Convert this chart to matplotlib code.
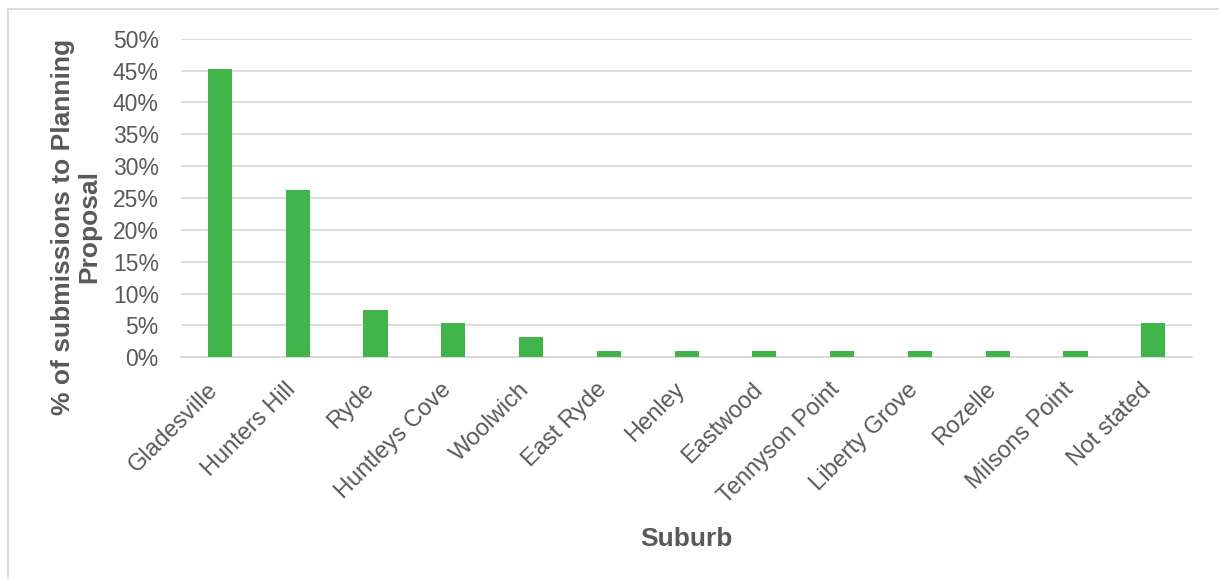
import matplotlib.pyplot as plt
from matplotlib.ticker import PercentFormatter
from matplotlib.lines import Line2D
from matplotlib.transforms import ScaledTranslation

suburbs = ['Gladesville', 'Hunters Hill', 'Ryde', 'Huntleys Cove', 'Woolwich',
           'East Ryde', 'Henley', 'Eastwood', 'Tennyson Point', 'Liberty Grove',
           'Rozelle', 'Milsons Point', 'Not stated']
share = [45.3, 26.3, 7.4, 5.3, 3.2, 1.05, 1.05, 1.05, 1.05, 1.05, 1.05, 1.05, 5.3]

plt.rcParams['font.family'] = ['Liberation Sans', 'DejaVu Sans']
txt = '#595959'
grid = '#d9d9d9'

fig = plt.figure(figsize=(12.19, 5.79), dpi=100)
ax = fig.add_axes([0.1485, 0.383, 0.8295, 0.55])

x = range(len(suburbs))
ax.bar(x, share, width=0.31, color='#41b54a', zorder=3)

ax.set_ylim(0, 50)
ax.set_xlim(-0.5, len(suburbs) - 0.5)
ax.set_yticks(range(0, 51, 5))
ax.yaxis.set_major_formatter(PercentFormatter(decimals=0))
ax.grid(axis='y', color=grid, linewidth=1.3, zorder=0)
for s in ['top', 'right', 'left']:
    ax.spines[s].set_visible(False)
ax.spines['bottom'].set_color(grid)
ax.spines['bottom'].set_linewidth(1.3)
ax.tick_params(axis='y', length=0, labelsize=16.5, colors=txt, pad=16)
ax.tick_params(axis='x', length=0, labelsize=17, colors=txt, pad=21)
ax.set_xticks(list(x))
ax.set_xticklabels(suburbs, rotation=45, ha='right', va='center', rotation_mode='anchor')
shift = ScaledTranslation(-4 / 72, 0, fig.dpi_scale_trans)
for lbl in ax.get_xticklabels():
    lbl.set_transform(lbl.get_transform() + shift)

ax.set_xlabel('Suburb', fontsize=19, fontweight='bold', color=txt, va='center')
ax.xaxis.set_label_coords(0.5, -0.572)
ax.set_ylabel('% of submissions to Planning\nProposal', fontsize=19,
              fontweight='bold', color=txt, linespacing=1.1)
ax.yaxis.set_label_coords(-0.079, 0.41)

# frame around the chart (only top and left edges show)
fig.add_artist(Line2D([8 / 1219, 1], [1 - 9 / 579, 1 - 9 / 579],
                      transform=fig.transFigure, color=grid, linewidth=1.3))
fig.add_artist(Line2D([8 / 1219, 8 / 1219], [0, 1 - 9 / 579],
                      transform=fig.transFigure, color=grid, linewidth=1.3))

fig.savefig('out.png', dpi=100)
